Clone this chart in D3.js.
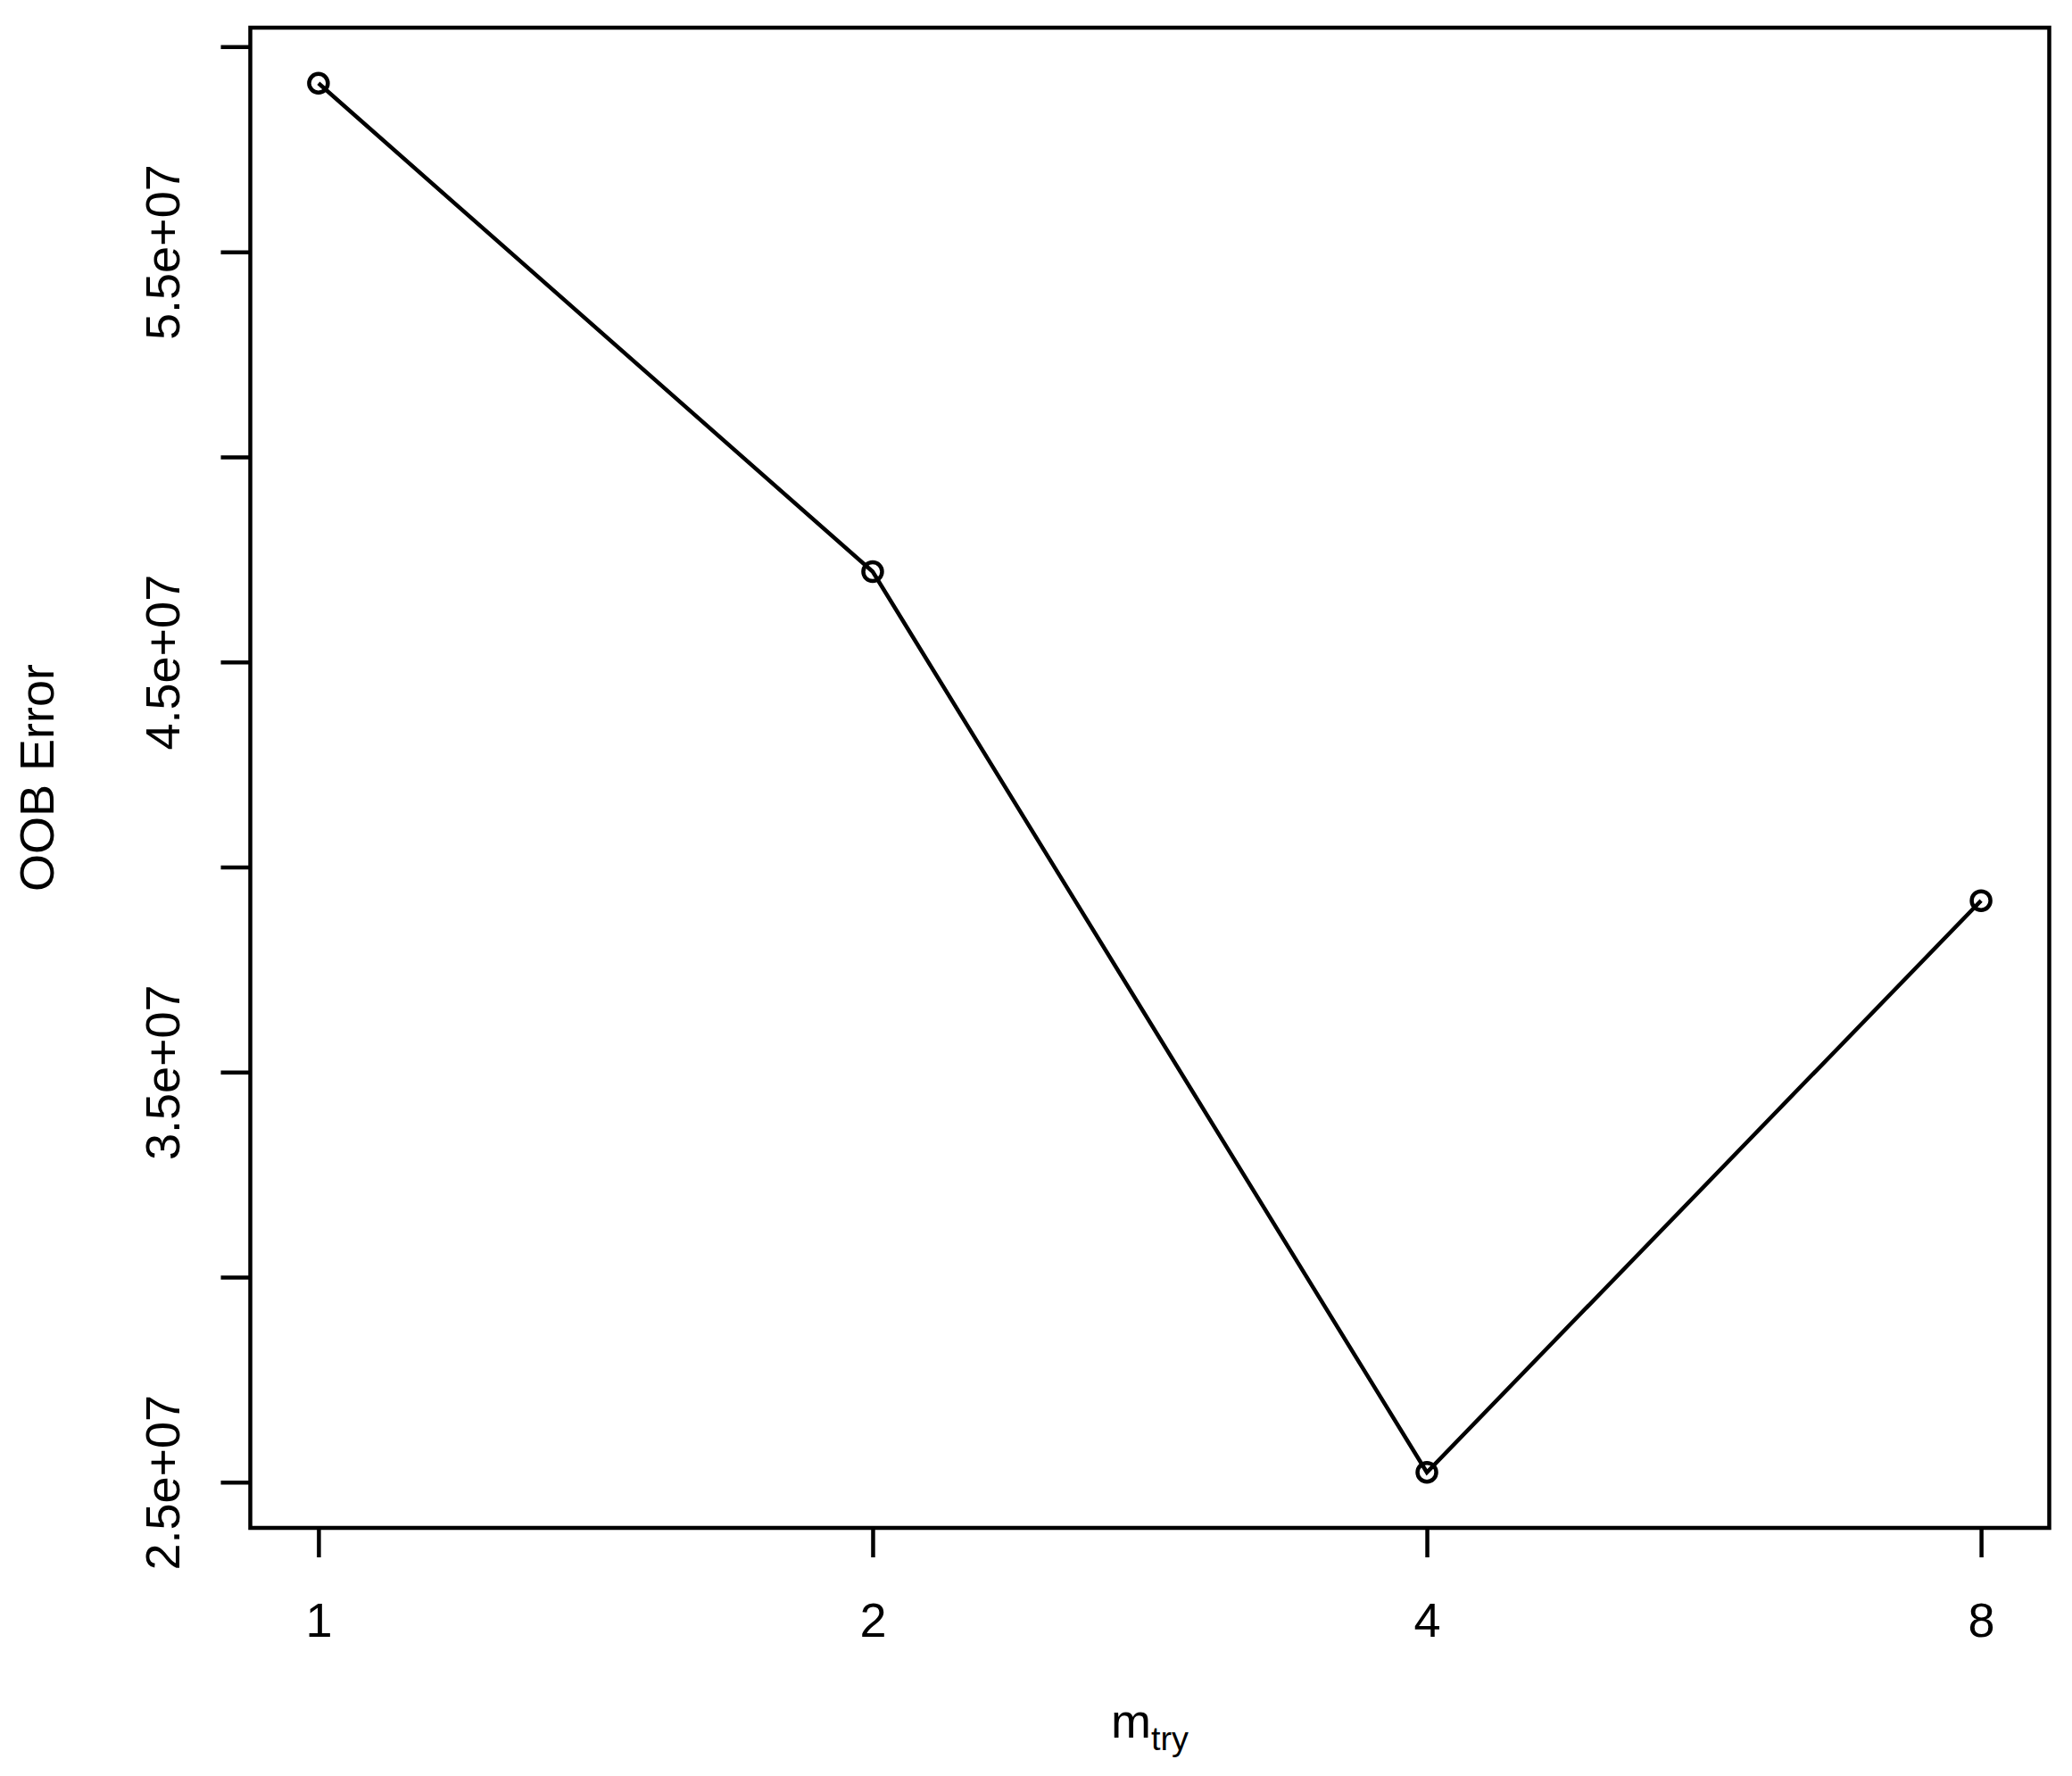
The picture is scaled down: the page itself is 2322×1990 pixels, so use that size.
<!DOCTYPE html>
<html>
<head>
	<meta charset="utf-8">
	<title>OOB Error vs mtry</title>
	<script src="https://d3js.org/d3.v7.min.js"></script>
	<style>
		body { margin: 0; background: #fff; }
		text { font-family: 'Liberation Sans', Arial, sans-serif; fill: #000; }
	</style>
</head>
<body>
	<div class="chart"></div>

	<script type="text/javascript">
		// data
		const mtry = ['1', '2', '4', '8']
		const oobError = [5.911e7, 4.72e7, 2.524e7, 3.918e7]
		const yTicks = [2.5e7, 3.0e7, 3.5e7, 4.0e7, 4.5e7, 5.0e7, 5.5e7, 6.0e7]
		const yTickLabels = ['2.5e+07', '', '3.5e+07', '', '4.5e+07', '', '5.5e+07', '']

		var width = 2322
		var height = 1990
		var box = { left: 280.5, right: 2296.5, top: 31, bottom: 1712 }
		var fontSize = 54
		var tickLen = 33

		var svg = d3
			.select('.chart')
			.append('svg')
			.attr('width', width)
			.attr('height', height)
			.style('background-color', '#fff')

		// R style 4% axis extension
		const yMin = d3.min(oobError), yMax = d3.max(oobError)
		const yPad = (yMax - yMin) * 0.04
		const y = d3.scaleLinear()
			.domain([yMin - yPad, yMax + yPad])
			.range([box.bottom, box.top])

		const xPad = (mtry.length - 1) * 0.041
		const x = d3.scaleLinear()
			.domain([-xPad, mtry.length - 1 + xPad])
			.range([box.left, box.right])

		// y axis (left)
		const yAxis = d3.axisLeft(y)
			.tickValues(yTicks)
			.tickSize(tickLen)
			.tickFormat((d, i) => yTickLabels[i])
		const gy = svg.append('g')
			.attr('transform', `translate(${box.left}, 0)`)
			.call(yAxis)
		gy.select('.domain').remove()
		gy.selectAll('.tick line').attr('stroke', '#000').attr('stroke-width', 4.5)
		gy.selectAll('.tick text')
			.attr('font-size', fontSize)
			.attr('x', null).attr('dy', null)
			.attr('text-anchor', 'middle')
			.attr('transform', `translate(${201 - box.left}, 0) rotate(-90)`)
			.attr('y', 0)

		// x axis (bottom)
		const xAxis = d3.axisBottom(x)
			.tickValues(d3.range(mtry.length))
			.tickSize(tickLen)
			.tickFormat((d) => mtry[d])
		const gx = svg.append('g')
			.attr('transform', `translate(0, ${box.bottom})`)
			.call(xAxis)
		gx.select('.domain').remove()
		gx.selectAll('.tick line').attr('stroke', '#000').attr('stroke-width', 4.5)
		gx.selectAll('.tick text')
			.attr('font-size', fontSize)
			.attr('dy', null)
			.attr('y', 1834 - box.bottom)

		// box
		svg.append('rect')
			.attr('x', box.left)
			.attr('y', box.top)
			.attr('width', box.right - box.left)
			.attr('height', box.bottom - box.top)
			.attr('fill', 'none')
			.attr('stroke', '#000')
			.attr('stroke-width', 4.5)

		// line + points
		const line = d3.line()
			.x((d, i) => x(i))
			.y((d) => y(d))
		svg.append('path')
			.datum(oobError)
			.attr('d', line)
			.attr('fill', 'none')
			.attr('stroke', '#000')
			.attr('stroke-width', 4.5)

		svg.append('g')
			.selectAll('circle')
			.data(oobError)
			.join('circle')
			.attr('cx', (d, i) => x(i))
			.attr('cy', (d) => y(d))
			.attr('r', 10.5)
			.attr('fill', 'none')
			.attr('stroke', '#000')
			.attr('stroke-width', 4.5)

		// axis titles
		const xt = svg.append('text')
			.attr('x', (box.left + box.right) / 2)
			.attr('y', 1947)
			.attr('text-anchor', 'middle')
			.attr('font-size', fontSize)
		xt.append('tspan').text('m')
		xt.append('tspan')
			.attr('font-size', fontSize * 0.7)
			.attr('dy', 14)
			.text('try')

		svg.append('text')
			.attr('transform', `translate(60, ${(box.top + box.bottom) / 2}) rotate(-90)`)
			.attr('text-anchor', 'middle')
			.attr('font-size', fontSize)
			.text('OOB Error')
	</script>
</body>
</html>
